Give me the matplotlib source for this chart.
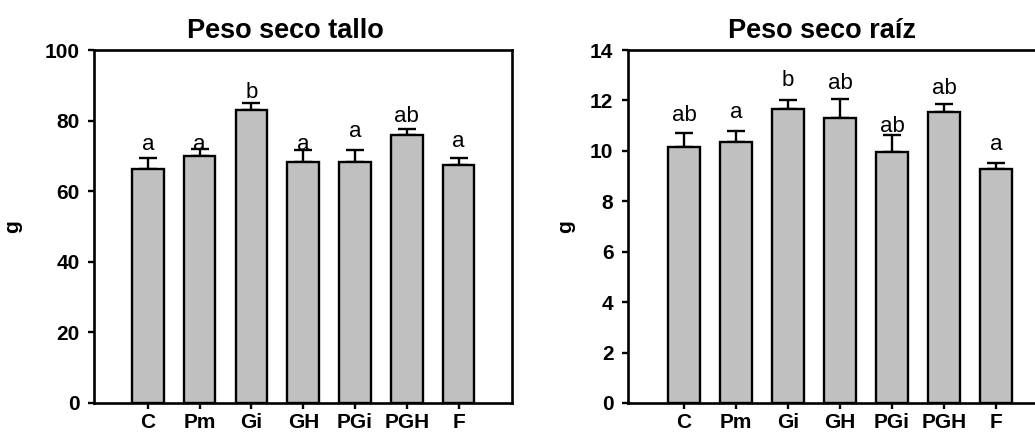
import matplotlib
matplotlib.use("Agg")
import matplotlib.pyplot as plt

plt.rcParams['font.family'] = ['Liberation Sans', 'DejaVu Sans']

categories = ["C", "Pm", "Gi", "GH", "PGi", "PGH", "F"]

tallo_mean = [66.2, 70.0, 83.0, 68.3, 68.3, 75.9, 67.4]
tallo_err = [3.2, 1.9, 2.0, 3.4, 3.4, 1.7, 2.0]
tallo_letters = ["a", "a", "b", "a", "a", "ab", "a"]
tallo_letter_y = [73.3, 73.3, 87.9, 73.3, 77.0, 81.3, 74.1]

raiz_mean = [10.14, 10.35, 11.67, 11.29, 9.94, 11.54, 9.29]
raiz_err = [0.55, 0.42, 0.35, 0.78, 0.67, 0.30, 0.21]
raiz_letters = ["ab", "a", "b", "ab", "ab", "ab", "a"]
raiz_letter_y = [11.42, 11.51, 12.78, 12.68, 10.98, 12.48, 10.27]

W, H = 1035, 438
fig = plt.figure(figsize=(W / 100, H / 100), dpi=100)

def panel(rect, means, errs, letters, letter_y, title, ymax, ystep, xlim, title_x, ylabel_x):
    ax = fig.add_axes(rect)
    x = list(range(len(categories)))
    ax.bar(x, means, width=0.61, color="#c0c0c0", edgecolor="black", linewidth=1.7, zorder=2)
    ax.errorbar(x, means, yerr=[[0] * len(errs), errs], fmt="none", ecolor="black",
                elinewidth=1.7, capsize=6.5, capthick=1.7, zorder=1)
    for xi, lab, ly in zip(x, letters, letter_y):
        ax.text(xi, ly, lab, ha="center", va="center", fontsize=16, zorder=3)
    ax.set_xlim(*xlim)
    ax.set_ylim(0, ymax)
    ax.set_yticks([i * ystep for i in range(int(ymax / ystep) + 1)])
    ax.set_xticks(x)
    ax.set_xticklabels(categories, fontweight="bold", fontsize=15)
    for lab in ax.get_yticklabels():
        lab.set_fontweight("bold")
        lab.set_fontsize(15)
    ax.tick_params(axis="both", direction="out", width=1.7, length=4.5, pad=6)
    ax.tick_params(axis="x", pad=3)
    for s in ax.spines.values():
        s.set_linewidth(1.9)
    ax.set_ylabel("g", fontweight="bold", fontsize=15)
    ax.yaxis.set_label_coords(ylabel_x, 0.5)
    ax.set_title(title, fontweight="bold", fontsize=19.5, x=title_x, pad=9)
    return ax

ax1 = panel([94 / W, 1 - 403 / H, 418 / W, 353 / H], tallo_mean, tallo_err, tallo_letters,
            tallo_letter_y, "Peso seco tallo", 100, 20, (-1.04, 7.03), 0.457, -72 / 418)
ax2 = panel([628 / W, 1 - 403 / H, 418 / W, 353 / H], raiz_mean, raiz_err, raiz_letters,
            raiz_letter_y, "Peso seco raíz", 14, 2, (-1.08, 6.96), 0.464, -53 / 418)

fig.savefig("out.png", dpi=100)
